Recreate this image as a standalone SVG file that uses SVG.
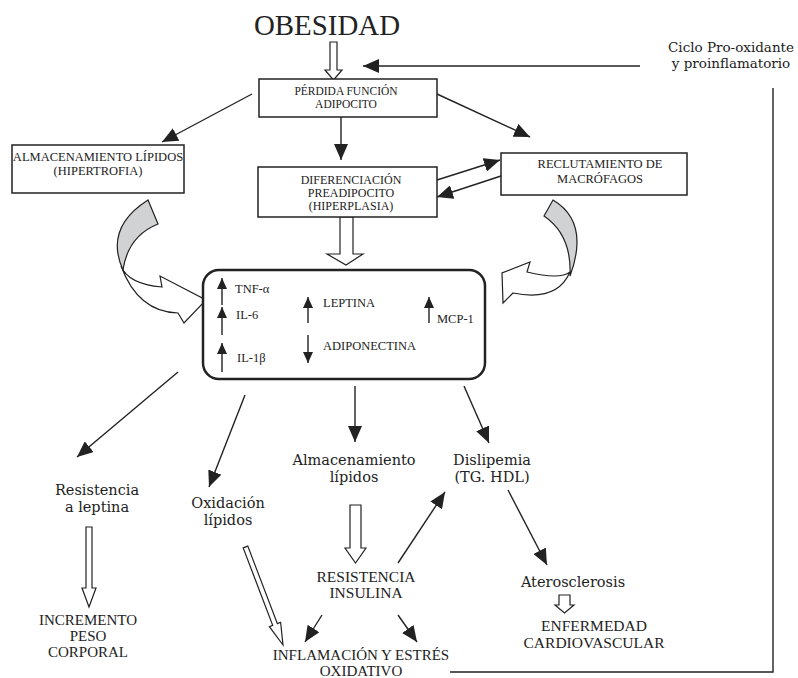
<svg xmlns="http://www.w3.org/2000/svg" width="798" height="678" viewBox="0 0 798 678">
<defs>
<marker id="ah" viewBox="0 0 16 14" refX="16" refY="7" markerWidth="16" markerHeight="14" orient="auto" markerUnits="userSpaceOnUse"><path d="M0,0 L16,7 L0,14 Z" fill="#222"/></marker>
<marker id="ah2" viewBox="0 0 11 10" refX="11" refY="5" markerWidth="11" markerHeight="10" orient="auto" markerUnits="userSpaceOnUse"><path d="M0,0 L11,5 L0,10 Z" fill="#222"/></marker>
<style>
.box{fill:#fff;stroke:#222;stroke-width:1.5}
.cap{font-family:"Liberation Serif","Times New Roman",serif;fill:#222;text-anchor:middle}
.capl{font-family:"Liberation Serif","Times New Roman",serif;fill:#222;text-anchor:start;font-size:12.5px}
.low{font-family:"DejaVu Serif",serif;fill:#222;text-anchor:middle}
.ln{stroke:#222;stroke-width:1.4;fill:none}
.arr{stroke:#222;stroke-width:1.4;fill:none;marker-end:url(#ah)}
.sa{stroke:#222;stroke-width:1.4;fill:none;marker-end:url(#ah2)}
.hol{fill:#fff;stroke:#222;stroke-width:1.2}
.gry{fill:#d1d2d4;stroke:#222;stroke-width:1.2}
</style>
</defs>
<rect width="798" height="678" fill="#fff"/>

<g id="connectors">
<line class="arr" x1="640" y1="66" x2="363" y2="66"/>
<polyline class="ln" points="450,672 773,672 773,88"/>
<line class="arr" x1="252" y1="94" x2="162" y2="142"/>
<line class="arr" x1="437" y1="94" x2="530" y2="137"/>
<line class="arr" x1="341" y1="117" x2="341" y2="160"/>
<line class="arr" x1="437" y1="180" x2="500" y2="160"/>
<line class="arr" x1="501" y1="176" x2="437" y2="197"/>
<line class="arr" x1="178" y1="372" x2="77" y2="457"/>
<line class="arr" x1="245" y1="395" x2="209" y2="487"/>
<line class="arr" x1="355" y1="386" x2="355" y2="442"/>
<line class="arr" x1="464" y1="386" x2="489" y2="443"/>
<line class="arr" x1="508" y1="490" x2="547" y2="565"/>
<line class="arr" x1="398" y1="563" x2="445" y2="492"/>
<line class="arr" x1="322" y1="615" x2="305" y2="642"/>
<line class="arr" x1="398" y1="615" x2="417" y2="642"/>
<polygon class="hol" points="330,42 337,42 337,70 342,70 333.5,80 325,70 330,70"/>
<polygon class="hol" points="340,217 353,217 353,254 363,254 346,265 327,254 340,254"/>
<polygon class="hol" points="350,505 361,505 361,548 366,548 355.5,563 345,548 350,548"/>
<polygon class="hol" points="86,527 92,527 92,588 96,588 89,607 82,588 86,588"/>
<polygon class="hol" points="243.2,547.9 247.8,546.1 277.4,623.6 280.6,622.3 283,645 269.4,626.7 272.7,625.4"/>
<polygon class="hol" points="559,595 570,595 570,605 574,605 564.5,613 555,605 559,605"/>
<path class="hol" d="M121,266 Q128,284 162,287 L160,276 L206,300 L184,323 L178,313 Q138,312 121,266 Z"/>
<path class="gry" d="M148,200 L158,224 Q128,236 123,270 Q104,228 148,200 Z"/>
<path class="hol" d="M570,272 Q560,280 527,272 L530,262 L502,273 L503,303 L513,293 Q557,302 570,272 Z"/>
<path class="gry" d="M553,200 Q590,222 570,276 Q572,235 544,216 Z"/>
</g>

<g id="obesidad"><text class="cap" x="327" y="35" font-size="29" textLength="146" lengthAdjust="spacingAndGlyphs">OBESIDAD</text></g>

<g id="perdida">
<rect class="box" x="259" y="79" width="178" height="38"/>
<text class="cap" x="346" y="95" font-size="11.5">PÉRDIDA FUNCIÓN</text>
<text class="cap" x="346" y="108" font-size="11.5">ADIPOCITO</text>
</g>

<g id="almacenamiento-box">
<rect class="box" x="12" y="145" width="172" height="48"/>
<text class="cap" x="98" y="161" font-size="12.5">ALMACENAMIENTO LÍPIDOS</text>
<text class="cap" x="98" y="175" font-size="12.5">(HIPERTROFIA)</text>
</g>

<g id="diferenciacion">
<rect class="box" x="258" y="167" width="179" height="50"/>
<text class="cap" x="351" y="184" font-size="12">DIFERENCIACIÓN</text>
<text class="cap" x="351" y="197" font-size="12">PREADIPOCITO</text>
<text class="cap" x="351" y="210" font-size="12">(HIPERPLASIA)</text>
</g>

<g id="reclutamiento">
<rect class="box" x="501" y="153" width="186" height="42"/>
<text class="cap" x="600" y="168" font-size="12.5">RECLUTAMIENTO DE</text>
<text class="cap" x="600" y="183" font-size="12.5">MACRÓFAGOS</text>
</g>

<g id="adipoquinas">
<rect x="203" y="270" width="282" height="109" rx="16" ry="16" fill="#fff" stroke="#222" stroke-width="2.5"/>
<line class="sa" x1="222" y1="305" x2="222" y2="278"/>
<line class="sa" x1="222" y1="335" x2="222" y2="307"/>
<line class="sa" x1="222" y1="372" x2="222" y2="343"/>
<line class="sa" x1="308" y1="323" x2="308" y2="297"/>
<line class="sa" x1="308" y1="335" x2="308" y2="363"/>
<line class="sa" x1="429" y1="323" x2="429" y2="297"/>
<text class="capl" x="235" y="293">TNF-α</text>
<text class="capl" x="236" y="319">IL-6</text>
<text class="capl" x="237" y="362">IL-1β</text>
<text class="capl" x="323" y="307">LEPTINA</text>
<text class="capl" x="323" y="350">ADIPONECTINA</text>
<text class="capl" x="437" y="323">MCP-1</text>
</g>

<g id="ciclo">
<text class="low" x="731" y="52" font-size="13.5">Ciclo Pro-oxidante</text>
<text class="low" x="731" y="68" font-size="13.5">y proinflamatorio</text>
</g>

<g id="resistencia-leptina">
<text class="low" x="97" y="495" font-size="14.5">Resistencia</text>
<text class="low" x="97" y="512" font-size="14.5">a leptina</text>
</g>
<g id="oxidacion">
<text class="low" x="228" y="508" font-size="14.5">Oxidación</text>
<text class="low" x="228" y="525" font-size="14.5">lípidos</text>
</g>
<g id="almacenamiento">
<text class="low" x="354" y="465" font-size="14.5">Almacenamiento</text>
<text class="low" x="354" y="482" font-size="14.5">lípidos</text>
</g>
<g id="dislipemia">
<text class="low" x="492" y="465" font-size="14.5">Dislipemia</text>
<text class="low" x="492" y="482" font-size="14.5">(TG. HDL)</text>
</g>
<g id="incremento">
<text class="cap" x="88" y="625" font-size="15">INCREMENTO</text>
<text class="cap" x="88" y="641" font-size="15">PESO</text>
<text class="cap" x="88" y="657" font-size="15">CORPORAL</text>
</g>
<g id="resistencia-insulina">
<text class="cap" x="366" y="582" font-size="15.5">RESISTENCIA</text>
<text class="cap" x="366" y="598" font-size="15.5">INSULINA</text>
</g>
<g id="inflamacion">
<text class="cap" x="361" y="660" font-size="15">INFLAMACIÓN Y ESTRÉS</text>
<text class="cap" x="361" y="676" font-size="15">OXIDATIVO</text>
</g>
<g id="aterosclerosis">
<text class="low" x="573" y="587" font-size="14.5">Aterosclerosis</text>
</g>
<g id="enfermedad">
<text class="cap" x="594" y="631" font-size="15.5">ENFERMEDAD</text>
<text class="cap" x="594" y="648" font-size="15.5">CARDIOVASCULAR</text>
</g>
</svg>
